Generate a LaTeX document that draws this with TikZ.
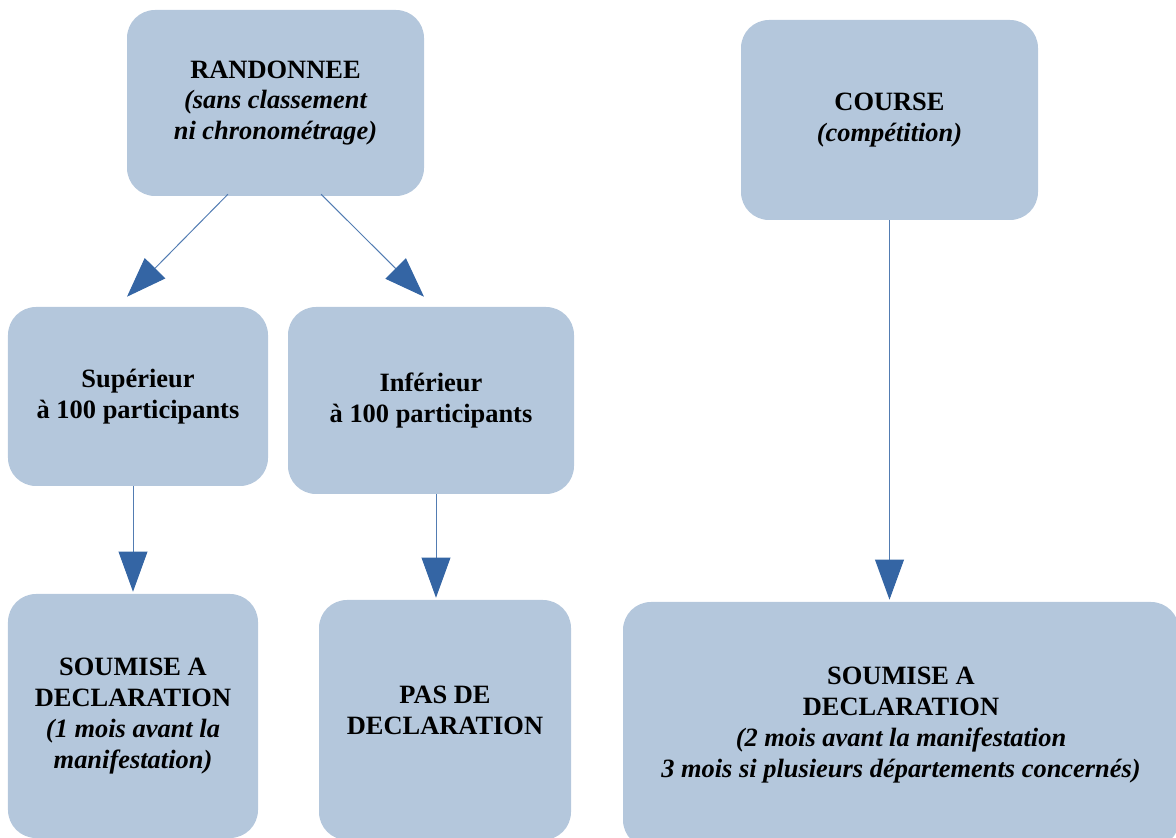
\documentclass[tikz,border=0pt]{standalone}
\usepackage{fontspec}
\setmainfont{Liberation Serif}
\usetikzlibrary{arrows.meta,calc}
\definecolor{boxfill}{HTML}{B4C7DC}
\definecolor{arrowblue}{HTML}{3465A4}
\begin{document}
\begin{tikzpicture}[
    box/.style={fill=boxfill,rounded corners=0.7cm,align=center,inner sep=0pt,
                font=\fontsize{18.8}{21.9}\selectfont\bfseries},
    link/.style={arrowblue!85,line width=0.7pt,
                 -{Triangle[length=1cm,width=0.72cm,fill=arrowblue,color=arrowblue]}}
  ]
                \useasboundingbox (0,0) rectangle (29.4,20.95);
                % top row
                \node[box,minimum width=7.425cm,minimum height=4.65cm] (rando) at (6.8875,18.375)
                    {RANDONNEE\\ \itshape (sans classement\\ \itshape ni chronométrage)};
                \node[box,minimum width=7.425cm,minimum height=5cm] (course) at (22.2375,17.95)
                    {COURSE\\ \itshape (compétition)};
                % middle row
                \node[box,minimum width=6.5cm,minimum height=4.475cm] (sup) at (3.45,11.0375)
                    {Supérieur\\ à 100 participants};
                \node[box,minimum width=7.15cm,minimum height=4.675cm] (inf) at (10.775,10.9375)
                    {Inférieur\\ à 100 participants};
                % bottom row
                \node[box,minimum width=6.25cm,minimum height=6.1cm] (decl1) at (3.325,3.05)
                    {SOUMISE A\\ DECLARATION\\ \itshape (1 mois avant la\\ \itshape manifestation)};
                \node[box,minimum width=6.3cm,minimum height=6cm] (pasdecl) at (11.125,2.95)
                    {PAS DE\\ DECLARATION\\[-0.3cm]};
                \node[box,minimum width=13.9cm,minimum height=6.15cm] (decl2) at (22.525,2.825)
                    {SOUMISE A\\ DECLARATION\\ \itshape (2 mois avant la manifestation\\ \itshape 3 mois si plusieurs départements concernés)};
                % arrows
                \draw[link] ([xshift=-1.19cm,yshift=0.05cm]rando.south) -- ([xshift=-0.275cm,yshift=0.25cm]sup.north);
                \draw[link] ([xshift=1.14cm,yshift=0.05cm]rando.south) -- ([xshift=-0.175cm,yshift=0.25cm]inf.north);
                \draw[link] (sup.south -| decl1.north) -- ([yshift=0.05cm]decl1.north);
                \draw[link] ([xshift=0.125cm]inf.south) -- ([xshift=0.125cm,yshift=0.05cm]inf.south |- pasdecl.north);
                \draw[link] (course.south) -- ([yshift=0.05cm]course.south |- decl2.north);
\end{tikzpicture}
\end{document}
